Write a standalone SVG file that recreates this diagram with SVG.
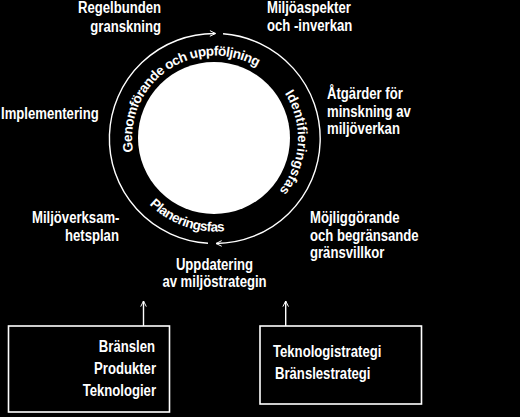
<svg xmlns="http://www.w3.org/2000/svg" width="520" height="417" viewBox="0 0 520 417">
<defs>
<style>
.t{font-family:"Liberation Sans",Arial,sans-serif;font-weight:bold;font-size:16px;fill:#fff}
.r{font-family:"Liberation Sans",Arial,sans-serif;font-weight:bold;font-size:13.5px;fill:#fff}
.ln{fill:none;stroke:#fff;stroke-width:1.4}
.box{fill:none;stroke:#fff;stroke-width:1.6}
</style>
<marker id="ah" viewBox="0 0 10 10" refX="9" refY="5" markerWidth="7" markerHeight="7" markerUnits="userSpaceOnUse" orient="auto">
<path d="M1,1 L9,5 L1,9" fill="none" stroke="#fff" stroke-width="1.4"/>
</marker>
<path id="cw" d="M143.12,180 A83,83 0 1 1 256.5,210.38"/>
<path id="ccw" d="M123.41,154.65 A93,93 0 0 0 306.59,154.65"/>
</defs>
<rect x="0" y="0" width="520" height="417" fill="#000"/>
<g id="cycle">
<circle cx="214" cy="138" r="76" fill="#fff"/>
<text class="r" letter-spacing="-0.5"><textPath href="#cw" startOffset="30">Genomförande och uppföljning</textPath></text>
<text class="r" letter-spacing="0"><textPath href="#cw" startOffset="256">Identifieringsfas</textPath></text>
<text class="r" letter-spacing="-0.5"><textPath href="#ccw" startOffset="57">Planeringsfas</textPath></text>
</g>
<g id="connectors">
<path class="ln" d="M223.06,33.8 A105,105 0 0 1 216.1,243.5" marker-end="url(#ah)"/>
<path class="ln" d="M208,243.3 A105,105 0 0 1 215.5,33.5" marker-end="url(#ah)"/>
<path class="ln" d="M143.5,326 L143.5,301" marker-end="url(#ah)"/>
<path class="ln" d="M285.7,326 L285.7,301" marker-end="url(#ah)"/>
</g>
<g id="regelbunden">
<text class="t" transform="translate(161,13) scale(0.82,1)" text-anchor="end">Regelbunden</text>
<text class="t" transform="translate(161,31.5) scale(0.82,1)" text-anchor="end">granskning</text>
</g>
<g id="miljoaspekter">
<text class="t" transform="translate(267,13) scale(0.82,1)">Miljöaspekter</text>
<text class="t" transform="translate(267,31) scale(0.82,1)">och -inverkan</text>
</g>
<g id="atgarder">
<text class="t" transform="translate(327,99) scale(0.82,1)">Åtgärder för</text>
<text class="t" transform="translate(327,116.5) scale(0.82,1)">minskning av</text>
<text class="t" transform="translate(327,134) scale(0.82,1)">miljöverkan</text>
</g>
<g id="implementering">
<text class="t" transform="translate(1,119) scale(0.82,1)">Implementering</text>
</g>
<g id="miljoverksamhetsplan">
<text class="t" transform="translate(32,223) scale(0.82,1)">Miljöverksam-</text>
<text class="t" transform="translate(65,240.5) scale(0.82,1)">hetsplan</text>
</g>
<g id="mojliggorande">
<text class="t" transform="translate(310,223) scale(0.82,1)">Möjliggörande</text>
<text class="t" transform="translate(310,240.5) scale(0.82,1)">och begränsande</text>
<text class="t" transform="translate(310,258) scale(0.82,1)">gränsvillkor</text>
</g>
<g id="uppdatering">
<text class="t" transform="translate(214.5,269.5) scale(0.82,1)" text-anchor="middle">Uppdatering</text>
<text class="t" transform="translate(214.5,286.5) scale(0.82,1)" text-anchor="middle">av miljöstrategin</text>
</g>
<g id="box-left">
<rect class="box" x="8.5" y="326" width="161" height="86"/>
<text class="t" transform="translate(155,352) scale(0.82,1)" text-anchor="end">Bränslen</text>
<text class="t" transform="translate(156,374) scale(0.82,1)" text-anchor="end">Produkter</text>
<text class="t" transform="translate(156,396) scale(0.82,1)" text-anchor="end">Teknologier</text>
</g>
<g id="box-right">
<rect class="box" x="260" y="326" width="161.5" height="78"/>
<text class="t" transform="translate(273,357) scale(0.82,1)">Teknologistrategi</text>
<text class="t" transform="translate(275,379) scale(0.82,1)">Bränslestrategi</text>
</g>
</svg>
